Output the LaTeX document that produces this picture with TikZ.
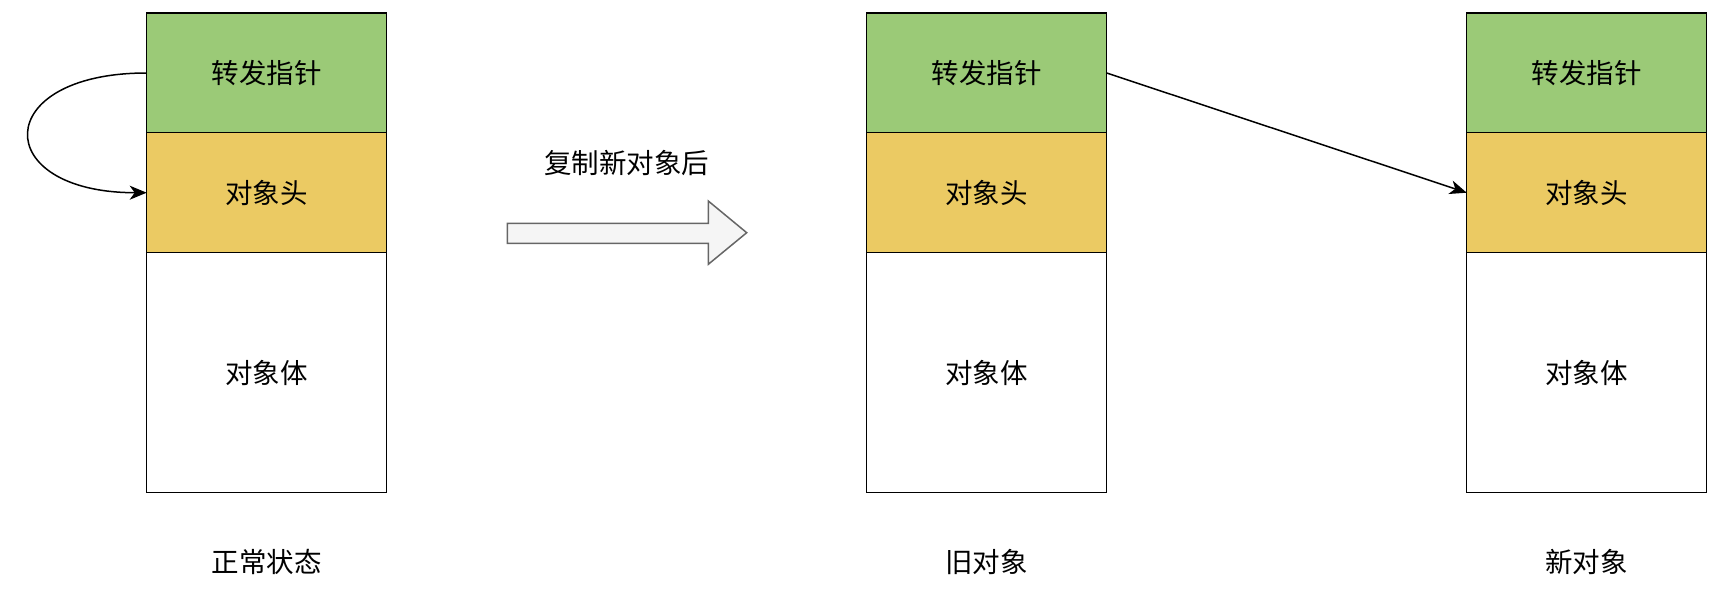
\documentclass[tikz,border=0pt]{standalone}
\usepackage{fontspec}
\setmainfont{Noto Sans CJK SC}
\usetikzlibrary{arrows.meta}
\definecolor{ptrgreen}{HTML}{9BCA77}
\definecolor{hdryellow}{HTML}{EBCA63}
\definecolor{blockfill}{HTML}{F5F5F5}
\definecolor{blockline}{HTML}{666666}
\tikzset{
  cell/.style={draw=black, line width=1.5pt, minimum width=240pt, inner sep=0pt, outer sep=0pt,
    font=\fontsize{27.5}{30}\selectfont},
  greencell/.style={cell, fill=ptrgreen, minimum height=120pt},
  yellowcell/.style={cell, fill=hdryellow, minimum height=120pt},
  bodycell/.style={cell, fill=white, minimum height=240pt},
  caption/.style={font=\fontsize{27.5}{30}\selectfont, inner sep=0pt},
  link/.style={draw=black, line width=1.5pt, -{Stealth[length=17pt, width=14pt, inset=5pt]}}
}
\begin{document}
\begin{tikzpicture}[x=1pt, y=-1pt]
\useasboundingbox (0,0) rectangle (1726,602);
% object 1
\node[greencell]  (g1) at (266.7,73)    {转发指针};
\node[yellowcell] (h1) at (266.7,192.7) {对象头};
\node[bodycell]   (b1) at (266.7,372.7) {对象体};
\node[caption]    (c1) at (266.7,562)   {正常状态};
% object 2
\node[greencell]  (g2) at (986.7,73)    {转发指针};
\node[yellowcell] (h2) at (986.7,192.7) {对象头};
\node[bodycell]   (b2) at (986.7,372.7) {对象体};
\node[caption]    (c2) at (986.7,562)   {旧对象};
% object 3
\node[greencell]  (g3) at (1586.7,73)    {转发指针};
\node[yellowcell] (h3) at (1586.7,192.7) {对象头};
\node[bodycell]   (b3) at (1586.7,372.7) {对象体};
\node[caption]    (c3) at (1586.7,562)   {新对象};
% block arrow
\draw[fill=blockfill, draw=blockline, line width=1.5pt, line join=miter]
  (507.3,223.3) -- (708.3,223.3) -- (708.3,201) -- (746.7,232.7) -- (708.3,264.3)
  -- (708.3,243.3) -- (507.3,243.3) -- cycle;
\node[caption] (lbl) at (626.7,163.3) {复制新对象后};
% connectors
\draw[link] (g1.west) .. controls +(-157,0) and +(-157,0) .. (h1.west);
\draw[link] (g2.east) -- (h3.west);
\end{tikzpicture}
\end{document}
